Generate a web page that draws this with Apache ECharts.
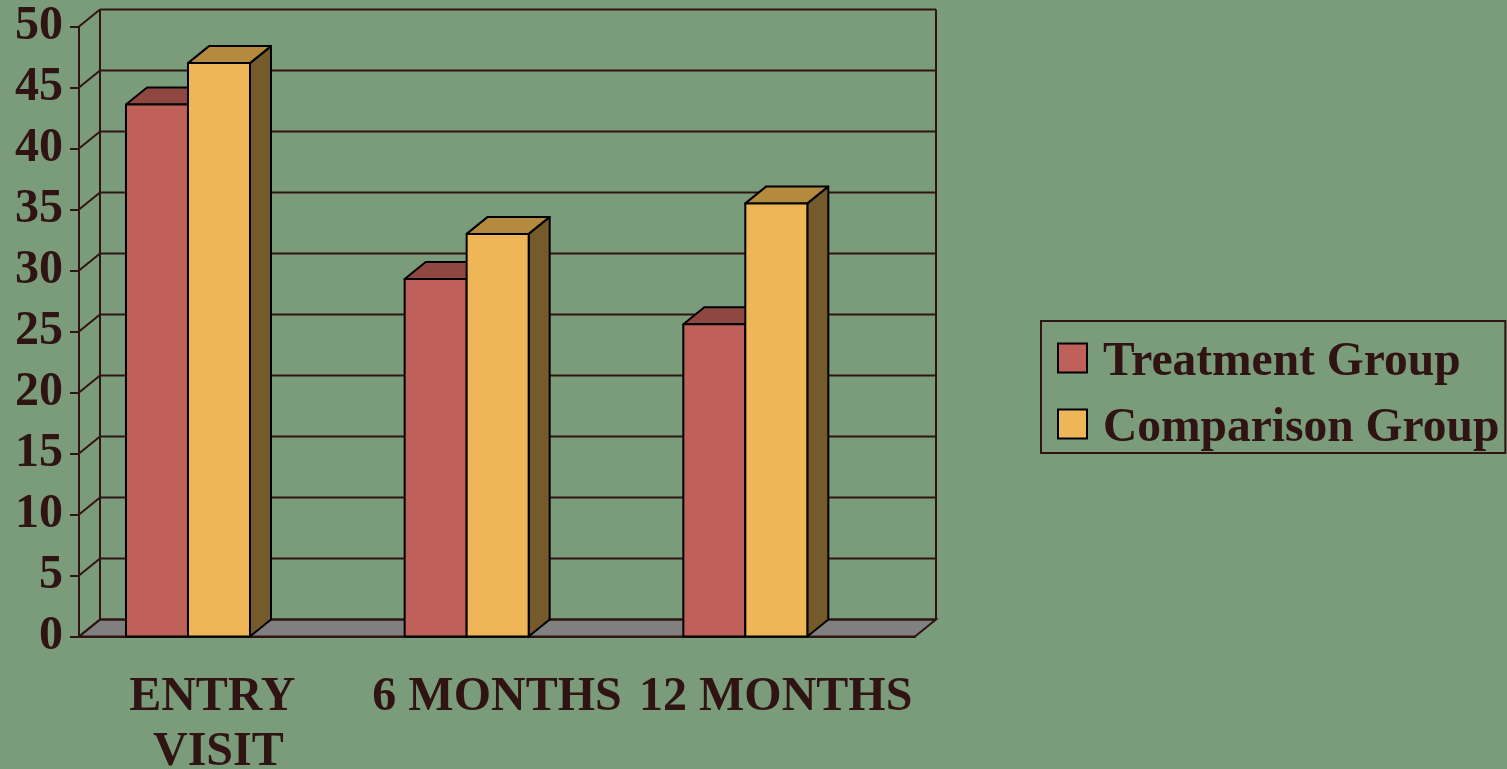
<!DOCTYPE html>
<html>
<head>
<meta charset="utf-8">
<style>
  html, body { margin: 0; padding: 0; background: #7b9c7b; }
  #main { width: 1507px; height: 769px; }
</style>
<script src="https://cdn.jsdelivr.net/npm/echarts@6/dist/echarts.min.js"></script>
</head>
<body>
<div id="main"></div>
<script>
var categories = ['ENTRY VISIT', '6 MONTHS', '12 MONTHS'];
var treatment = [43.6, 29.3, 25.6];
var comparison = [47, 33, 35.5];
var yTicks = [0, 5, 10, 15, 20, 25, 30, 35, 40, 45, 50];

var ink = '#301414';
var depthX = 21, depthY = -17;

var palette = {
    'Treatment Group': { front: '#c0605a', top: '#8f4742', side: '#7a3a35' },
    'Comparison Group': { front: '#eeb656', top: '#b38a3e', side: '#755b2b' }
};

var chart = echarts.init(document.getElementById('main'));

// back wall, left wall gridlines and floor
function renderWall(params, api) {
    var cs = params.coordSys;
    var p = api.coord([0, api.value(0)]);
    var yf = p[1];
    var x0 = cs.x, x1 = cs.x + cs.width;
    var children = [];
    var lineStyle = { stroke: ink, lineWidth: 2 };
    if (params.dataIndex === 0) {
        var yb = cs.y + cs.height;
        children.push({
            type: 'polygon',
            shape: { points: [[x0, yb], [x0 + depthX, yb + depthY], [x1 + depthX, yb + depthY], [x1, yb]] },
            style: { fill: '#808080', stroke: ink, lineWidth: 2 }
        });
        children.push({
            type: 'line',
            shape: { x1: x0 + depthX, y1: cs.y + depthY, x2: x0 + depthX, y2: yb + depthY },
            style: lineStyle
        });
        children.push({
            type: 'line',
            shape: { x1: x1 + depthX, y1: cs.y + depthY, x2: x1 + depthX, y2: yb + depthY },
            style: lineStyle
        });
    }
    children.push({
        type: 'line',
        shape: { x1: x0, y1: yf, x2: x0 + depthX, y2: yf + depthY },
        style: lineStyle
    });
    children.push({
        type: 'line',
        shape: { x1: x0 + depthX, y1: yf + depthY, x2: x1 + depthX, y2: yf + depthY },
        style: lineStyle
    });
    return { type: 'group', children: children };
}

function makeBarRenderer(slot) {
    return function (params, api) {
        var c = palette[params.seriesName];
        var band = api.size([1, 0])[0];
        var base = api.coord([api.value(0), 0]);
        var top = api.coord([api.value(0), api.value(1)]);
        var w = band * 0.2225;
        var xl = base[0] - band / 2 + band * 0.1686 + slot * w;
        var xr = xl + w;
        var yt = top[1], yb = base[1];
        var edge = { stroke: '#000', lineWidth: 2, lineJoin: 'round' };
        return {
            type: 'group',
            children: [
                {
                    type: 'polygon',
                    shape: { points: [[xr, yt], [xr + depthX, yt + depthY], [xr + depthX, yb + depthY], [xr, yb]] },
                    style: Object.assign({ fill: c.side }, edge)
                },
                {
                    type: 'polygon',
                    shape: { points: [[xl, yt], [xl + depthX, yt + depthY], [xr + depthX, yt + depthY], [xr, yt]] },
                    style: Object.assign({ fill: c.top }, edge)
                },
                {
                    type: 'rect',
                    shape: { x: xl, y: yt, width: w, height: yb - yt },
                    style: Object.assign({ fill: c.front }, edge)
                }
            ]
        };
    };
}

var font = '"Liberation Serif", "Times New Roman", serif';

chart.setOption({
    animation: false,
    backgroundColor: '#7b9c7b',
    grid: {
        left: 79,
        right: 592,
        top: 26.5,
        bottom: 132.5,
        containLabel: false,
        outerBoundsMode: 'none'
    },
    legend: {
        orient: 'vertical',
        left: 1041,
        top: 321,
        padding: [8, 6, 0, 16],
        itemGap: 8,
        itemWidth: 29,
        itemHeight: 29,
        borderColor: ink,
        borderWidth: 2,
        formatter: '{t|{name}}',
        textStyle: {
            color: ink,
            fontFamily: font,
            fontWeight: 'bold',
            fontSize: 47.5,
            rich: {
                t: {
                    color: ink,
                    fontFamily: font,
                    fontWeight: 'bold',
                    fontSize: 47.5,
                    lineHeight: 48,
                    padding: [10, 0, 0, 11]
                }
            }
        },
        data: [
            { name: 'Treatment Group', icon: 'rect', itemStyle: { color: '#c0605a', borderColor: '#000', borderWidth: 2 } },
            { name: 'Comparison Group', icon: 'rect', itemStyle: { color: '#eeb656', borderColor: '#000', borderWidth: 2 } }
        ]
    },
    xAxis: {
        type: 'category',
        data: categories,
        axisLine: { lineStyle: { color: ink, width: 2 } },
        axisTick: { length: 11, lineStyle: { color: ink, width: 2 } },
        axisLabel: {
            interval: 0,
            margin: 34,
            width: 279,
            overflow: 'break',
            color: ink,
            fontFamily: font,
            fontWeight: 'bold',
            fontSize: 48,
            lineHeight: 55
        },
        splitLine: { show: false }
    },
    yAxis: {
        type: 'value',
        min: 0,
        max: 50,
        interval: 5,
        axisLine: { show: true, lineStyle: { color: ink, width: 2 } },
        axisTick: { show: true, length: 9, lineStyle: { color: ink, width: 2 } },
        axisLabel: {
            margin: 16,
            color: ink,
            fontFamily: font,
            fontWeight: 'bold',
            fontSize: 48
        },
        splitLine: { show: false }
    },
    series: [
        {
            type: 'custom',
            name: 'wall',
            silent: true,
            renderItem: renderWall,
            data: yTicks.map(function (v) { return [v]; }),
            encode: { y: 0 }
        },
        {
            type: 'custom',
            name: 'Treatment Group',
            silent: true,
            itemStyle: { color: '#c0605a' },
            renderItem: makeBarRenderer(0),
            data: treatment.map(function (v, i) { return [i, v]; }),
            encode: { x: 0, y: 1 }
        },
        {
            type: 'custom',
            name: 'Comparison Group',
            silent: true,
            itemStyle: { color: '#eeb656' },
            renderItem: makeBarRenderer(1),
            data: comparison.map(function (v, i) { return [i, v]; }),
            encode: { x: 0, y: 1 }
        }
    ]
});
</script>
</body>
</html>
